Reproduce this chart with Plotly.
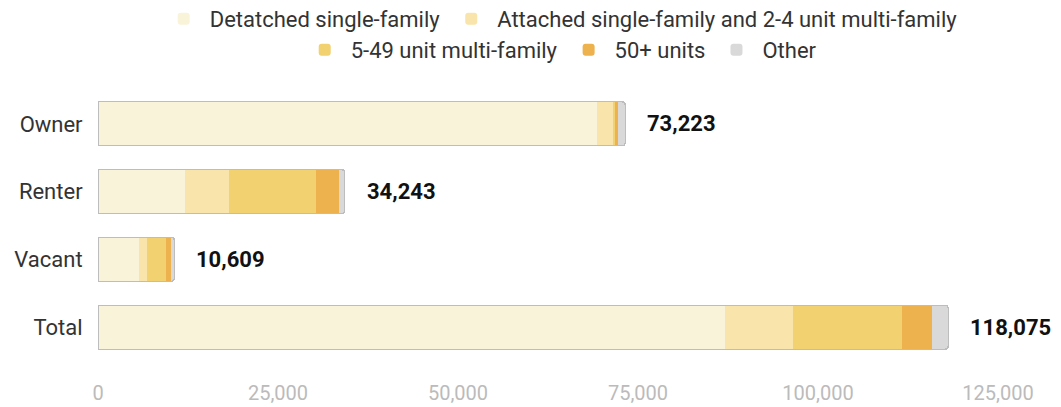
import plotly.graph_objects as go

categories = ["Owner", "Renter", "Vacant", "Total"]
series_names = [
    "Detatched single-family",
    "Attached single-family and 2-4 unit multi-family",
    "5-49 unit multi-family",
    "50+ units",
    "Other",
]
detached = [69300, 12100, 5700, 87100]
attached = [2250, 6100, 1100, 9450]
mf_5_49 = [300, 12100, 2650, 15050]
mf_50 = [400, 3200, 700, 4300]
other = [973, 743, 459, 2175]
totals = [73223, 34243, 10609, 118075]
x_ticks = [0, 25000, 50000, 75000, 100000, 125000]

colors = ["#F9F3DA", "#F9E5AB", "#F2D170", "#EDB24E", "#D9D9D9"]
series = [detached, attached, mf_5_49, mf_50, other]
legend_rows = ["legend", "legend", "legend2", "legend2", "legend2"]

fig = go.Figure()
for name, vals, col, lg in zip(series_names, series, colors, legend_rows):
    fig.add_trace(go.Bar(
        y=categories, x=vals, name=name, orientation="h",
        marker=dict(color=col, line=dict(width=0)),
        legend=lg, hoverinfo="skip",
    ))

# outline of each whole bar
fig.add_trace(go.Bar(
    y=categories, x=totals, orientation="h", xaxis="x2",
    marker=dict(color="rgba(0,0,0,0)", line=dict(color="#BDBDBD", width=1.2), cornerradius=3),
    showlegend=False, hoverinfo="skip",
))

for c, t in zip(categories, totals):
    fig.add_annotation(
        x=t, y=c, xref="x", yref="y", text=f"{t:,}", showarrow=False,
        xanchor="left", xshift=20,
        font=dict(family="Roboto", size=22, color="#111111", weight="bold",
                  shadow="1px 1px 0 white, -1px -1px 0 white, 1px -1px 0 white, -1px 1px 0 white, 0 0 3px white"),
    )

legend_common = dict(
    orientation="h", xref="container", yref="container",
    x=0.528, xanchor="center", yanchor="middle",
    font=dict(family="Roboto", size=22, color="#333333"), traceorder="normal",
    itemwidth=42, bgcolor="rgba(0,0,0,0)",
)

fig.update_layout(
    width=1061, height=407,
    barmode="stack", bargap=0.35, barcornerradius=3,
    plot_bgcolor="white", paper_bgcolor="white",
    margin=dict(l=98, r=63, t=90, b=46),
    font=dict(family="Roboto", size=18, color="#333333"),
    showlegend=True,
    legend=dict(legend_common, y=1 - 19 / 407),
    legend2=dict(legend_common, y=1 - 50 / 407),
    xaxis=dict(
        range=[0, 125000], tickvals=x_ticks, tickformat=",",
        showgrid=False, zeroline=False, showline=False,
        ticks="outside", ticklen=14, tickcolor="rgba(0,0,0,0)",
        tickfont=dict(size=20, color="#BBBBBB"),
        fixedrange=True, automargin=False,
    ),
    xaxis2=dict(
        range=[0, 125000], overlaying="x", side="bottom", visible=False,
        fixedrange=True,
    ),
    yaxis=dict(
        autorange="reversed", showgrid=False, zeroline=False, showline=False,
        ticks="outside", ticklen=10, tickcolor="rgba(0,0,0,0)",
        tickfont=dict(size=22, color="#333333"),
        fixedrange=True, automargin=False,
    ),
)

fig.write_html("out.html", config={"displayModeBar": False},
               post_script="document.body.style.margin='0';")
